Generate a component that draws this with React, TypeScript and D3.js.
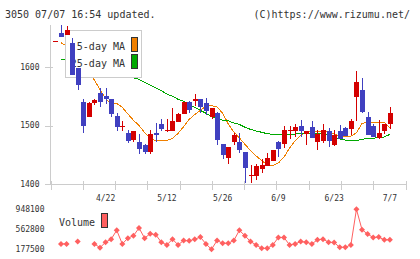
import React, { useEffect, useRef } from 'react';
import * as d3 from 'd3';

// trading days shown on the chart
const dates = [
  '4/9', '4/10', '4/11', '4/14', '4/15', '4/16', '4/17', '4/18', '4/21', '4/22',
  '4/23', '4/24', '4/25', '4/28', '4/30', '5/1', '5/2', '5/7', '5/8', '5/9',
  '5/12', '5/13', '5/14', '5/15', '5/16', '5/19', '5/20', '5/21', '5/22', '5/23',
  '5/26', '5/27', '5/28', '5/29', '5/30', '6/2', '6/3', '6/4', '6/5', '6/6',
  '6/9', '6/10', '6/11', '6/12', '6/13', '6/16', '6/17', '6/18', '6/19', '6/20',
  '6/23', '6/24', '6/25', '6/26', '6/27', '6/30', '7/1', '7/2', '7/3', '7/4',
  '7/7',
];

const opens = [
  1645, 1659, 1655, 1642, 1599, 1540, 1515, 1538, 1555, 1551,
  1545, 1517, 1498, 1488, 1475, 1471, 1467, 1455, 1488, 1503,
  1490, 1491, 1506, 1519, 1540, 1542, 1546, 1538, 1514, 1522,
  1469, 1445, 1471, 1472, 1455, 1414, 1414, 1426, 1431, 1439,
  1471, 1468, 1491, 1491, 1499, 1485, 1497, 1472, 1474, 1490,
  1467, 1491, 1496, 1494, 1548, 1561, 1514, 1499, 1479, 1491,
  1503,
];
const highs = [
  1645, 1672, 1671, 1650, 1599, 1546, 1541, 1545, 1564, 1564,
  1546, 1522, 1507, 1493, 1491, 1485, 1468, 1493, 1504, 1511,
  1511, 1530, 1522, 1541, 1542, 1554, 1546, 1547, 1530, 1524,
  1469, 1464, 1487, 1487, 1455, 1433, 1434, 1442, 1453, 1458,
  1474, 1500, 1500, 1503, 1510, 1490, 1508, 1493, 1503, 1496,
  1493, 1501, 1498, 1511, 1594, 1581, 1523, 1503, 1510, 1503,
  1531,
];
const lows = [
  1645, 1651, 1655, 1586, 1561, 1487, 1514, 1535, 1531, 1537,
  1515, 1491, 1490, 1470, 1472, 1451, 1452, 1451, 1472, 1490,
  1489, 1491, 1506, 1519, 1521, 1534, 1521, 1518, 1511, 1467,
  1443, 1434, 1466, 1453, 1401, 1402, 1407, 1419, 1431, 1439,
  1447, 1461, 1477, 1480, 1481, 1466, 1479, 1458, 1470, 1463,
  1465, 1477, 1482, 1484, 1508, 1522, 1483, 1481, 1477, 1486,
  1494,
];
const closes = [
  1645, 1651, 1664, 1586, 1570, 1500, 1539, 1543, 1540, 1546,
  1520, 1497, 1499, 1474, 1491, 1460, 1454, 1486, 1483, 1494,
  1493, 1508, 1520, 1540, 1526, 1546, 1531, 1525, 1530, 1475,
  1450, 1464, 1484, 1458, 1428, 1416, 1431, 1433, 1445, 1458,
  1460, 1493, 1493, 1497, 1491, 1490, 1479, 1485, 1493, 1474,
  1484, 1477, 1482, 1508, 1575, 1524, 1483, 1481, 1487, 1503,
  1522,
];

const ma5 = [
  null, 1641.6, 1636.5, 1626, 1614, 1602, 1590, 1578, 1561, 1546,
  1537, 1538, 1531, 1520, 1509, 1500, 1488, 1478.5, 1474, 1474,
  1474.5, 1478, 1486.5, 1498, 1510.5, 1519, 1526, 1533, 1534, 1532,
  1521, 1503, 1489, 1479, 1468, 1457, 1448, 1440, 1432.5, 1431.5,
  1436, 1446, 1461.5, 1474, 1483, 1489, 1489.5, 1489, 1489.5, 1489.5,
  1485.5, 1482, 1482, 1482, 1487.5, 1504, 1505, 1505.5, 1505.5, 1505.5,
  1495.5,
];
const ma25 = [
  null, 1614, 1611.5, 1609, 1606.5, 1604, 1601.5, 1599, 1596.5, 1594,
  1591.5, 1589, 1586.5, 1584, 1581.5, 1579, 1574, 1569.5, 1564.5, 1559.5,
  1554, 1550, 1545, 1541.5, 1536, 1531, 1526, 1521, 1515.5, 1511.5,
  1509, 1508, 1504.5, 1502, 1497, 1493.5, 1490.5, 1488.5, 1486, 1485,
  1484, 1484, 1484.5, 1485.5, 1486.5, 1487, 1487, 1486, 1485.5, 1483,
  1480.5, 1477, 1475, 1473.5, 1474.5, 1476.5, 1478, 1478.5, 1479, 1480.5,
  1485,
];

const volumes = [
  null, 281400, 281400, null, 327100, null, null, 281400, 209500, 314100,
  373000, 542800, 281400, 392600, 438300, 588700, 392600, 477500, 457900, 314100,
  261800, 373000, 261800, 346700, 340200, 373000, 412200, 281400, 177500, 346700,
  294600, 294600, 346700, 542800, 438300, 327100, 261800, 196500, 196500, 261800,
  405500, 405500, 261800, 281400, 327100, 314100, 281400, 359900, 373000, 314100,
  307500, 216100, 216100, 261800, 948100, 555900, 471000, 405500, 412200, 359900,
  359900,
];

const dateTicks = ['4/22', '5/12', '5/26', '6/9', '6/23', '7/7'];
const priceTicks = [1400, 1500, 1600];

const W = 420;
const H = 259;
const FONT = '"DejaVu Sans Mono", monospace';
const UP = '#d40000';
const DOWN = '#4040c0';
const AXIS = '#cccccc';

const App: React.FC = () => {
  const svgRef = useRef<SVGSVGElement>(null);

  useEffect(() => {
    if (!svgRef.current) return;
    const svg = d3.select(svgRef.current);
    svg.selectAll('*').remove();

    const x = d3.scalePoint<string>().domain(dates).range([55.4, 389.9]);
    const y = d3.scaleLinear().domain([1400, d3.max(highs) as number]).range([184, 25]);
    const grid = d3.scaleLinear().domain([0, 11]).range([50.5, 405.5]);

    const vols = volumes.filter((v): v is number => v != null);
    const [vMin, vMax] = d3.extent(vols) as [number, number];
    const yv = d3.scaleLinear().domain([vMin, vMax]).range([249.3, 209.3]);

    svg.append('rect').attr('width', W).attr('height', H).attr('fill', '#fff');

    // header
    svg.append('text').attr('x', 5).attr('y', 18)
      .style('font-family', FONT).style('font-size', '10px').attr('fill', '#333')
      .text('3050 07/07 16:54 updated.');
    svg.append('text').attr('x', 410).attr('y', 18).attr('text-anchor', 'end')
      .style('font-family', FONT).style('font-size', '10px').attr('fill', '#333')
      .text('(C)https://www.rizumu.net/');

    // axes frame
    const frame = svg.append('g').attr('stroke', AXIS).attr('shape-rendering', 'crispEdges');
    frame.append('line').attr('x1', 50.5).attr('x2', 50.5).attr('y1', 25).attr('y2', 184.5);
    frame.append('line').attr('x1', 50.5).attr('x2', 405.5).attr('y1', 184.5).attr('y2', 184.5);
    frame.selectAll('.xt').data(d3.range(12)).enter().append('line')
      .attr('x1', d => Math.round(grid(d)) + 0.5).attr('x2', d => Math.round(grid(d)) + 0.5)
      .attr('y1', 181).attr('y2', 190);
    frame.selectAll('.yt').data(priceTicks).enter().append('line')
      .attr('x1', 45).attr('x2', 53)
      .attr('y1', d => Math.round(y(d)) + 0.5).attr('y2', d => Math.round(y(d)) + 0.5);

    svg.selectAll('.ylab').data(priceTicks).enter().append('text')
      .attr('x', 39.5).attr('y', d => y(d)).attr('dy', '0.35em').attr('text-anchor', 'end')
      .style('font-family', FONT).style('font-size', '8px').attr('fill', '#333')
      .text(d => String(d));

    svg.selectAll('.xlab').data(dateTicks).enter().append('text')
      .attr('x', d => x(d) as number).attr('y', 201).attr('text-anchor', 'middle')
      .style('font-family', FONT).style('font-size', '8px').attr('fill', '#333')
      .text(d => d);

    // moving averages
    const maLine = d3.line<number | null>()
      .defined(d => d != null)
      .x((_, i) => x(dates[i]) as number)
      .y(d => y(d as number));
    svg.append('path').attr('d', maLine(ma5)).attr('fill', 'none')
      .attr('stroke', '#f08000').attr('stroke-width', 1).attr('shape-rendering', 'crispEdges');
    svg.append('path').attr('d', maLine(ma25)).attr('fill', 'none')
      .attr('stroke', '#00a800').attr('stroke-width', 1).attr('shape-rendering', 'crispEdges');

    // legend box
    const lg = svg.append('g');
    lg.append('rect').attr('x', 65.5).attr('y', 30.5).attr('width', 76).attr('height', 47)
      .attr('fill', '#fff').attr('stroke', AXIS).attr('shape-rendering', 'crispEdges');
    [['5-day MA', '#f08000'], ['25-day MA', '#00a800']].forEach(([label, color], k) => {
      lg.append('text').attr('x', 125).attr('y', 49.5 + k * 17).attr('text-anchor', 'end')
        .style('font-family', FONT).style('font-size', '10px').attr('fill', '#333')
        .text(label);
      lg.append('rect').attr('x', 131.5).attr('y', 37.5 + k * 17).attr('width', 6).attr('height', 14)
        .attr('fill', color).attr('stroke', '#333').attr('shape-rendering', 'crispEdges');
    });

    // candles
    const candles = svg.append('g').attr('shape-rendering', 'crispEdges');
    dates.forEach((d, i) => {
      const cx = Math.round(x(d) as number);
      const color = closes[i] >= opens[i] ? UP : DOWN;
      candles.append('line')
        .attr('x1', cx + 0.5).attr('x2', cx + 0.5)
        .attr('y1', y(highs[i])).attr('y2', y(lows[i]))
        .attr('stroke', color);
      const top = y(Math.max(opens[i], closes[i]));
      const bot = y(Math.min(opens[i], closes[i]));
      candles.append('rect')
        .attr('x', cx - 2).attr('width', 5)
        .attr('y', top).attr('height', Math.max(1, bot - top))
        .attr('fill', color);
    });

    // volume
    const volLine = d3.line<number | null>()
      .defined(d => d != null)
      .x((_, i) => x(dates[i]) as number)
      .y(d => yv(d as number));
    svg.append('path').attr('d', volLine(volumes)).attr('fill', 'none')
      .attr('stroke', '#ff6060').attr('stroke-width', 1);
    svg.selectAll('.vpt').data(volumes.map((v, i) => ({ v, i })).filter(p => p.v != null))
      .enter().append('path')
      .attr('transform', p => `translate(${x(dates[p.i])},${yv(p.v as number)})`)
      .attr('d', 'M0,-3L3,0L0,3L-3,0Z')
      .attr('fill', '#ff6060');

    svg.selectAll('.vlab').data([vMax, (vMin + vMax) / 2, vMin]).enter().append('text')
      .attr('x', 44.5).attr('y', d => yv(d)).attr('dy', '0.35em').attr('text-anchor', 'end')
      .style('font-family', FONT).style('font-size', '8px').attr('fill', '#333')
      .text(d => String(Math.round(d)));

    svg.append('text').attr('x', 59).attr('y', 226)
      .style('font-family', FONT).style('font-size', '10px').attr('fill', '#333')
      .text('Volume');
    svg.append('rect').attr('x', 101.5).attr('y', 213.5).attr('width', 6).attr('height', 14)
      .attr('fill', '#ff6060').attr('stroke', '#333').attr('shape-rendering', 'crispEdges');
  }, []);

  return (
    <svg
      ref={svgRef}
      width={W}
      height={H}
      style={{ position: 'absolute', left: 0, top: 0, display: 'block' }}
    />
  );
};

export default App;
